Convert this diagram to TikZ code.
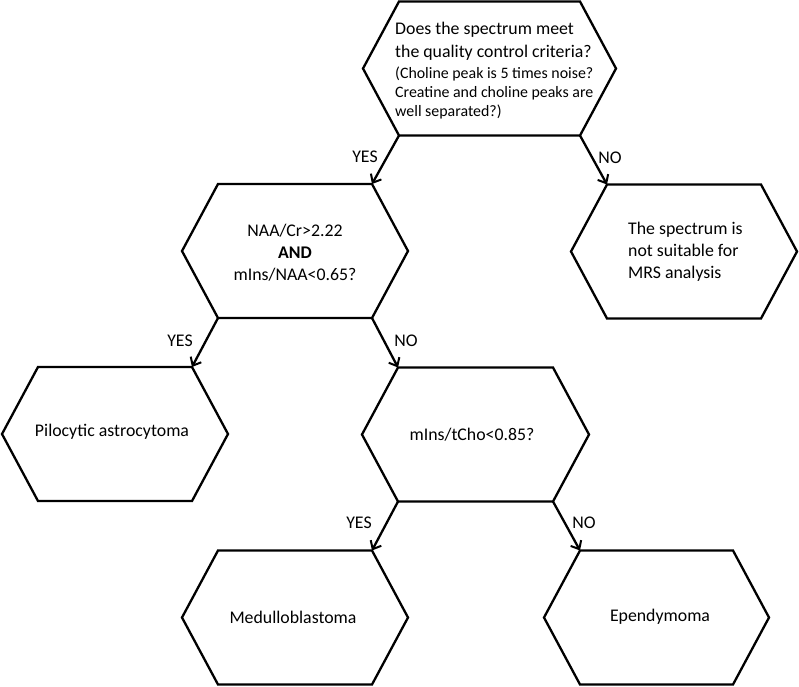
\documentclass[tikz,border=0pt]{standalone}
\usepackage{fontspec}
\setmainfont{Carlito}
\usetikzlibrary{arrows.meta}
\newcommand{\hexa}[4]{%
  \coordinate (#1-tl) at (#2-#4,#3-67);
  \coordinate (#1-tr) at (#2+#4,#3-67);
  \coordinate (#1-r)  at (#2+#4+36,#3);
  \coordinate (#1-br) at (#2+#4,#3+67);
  \coordinate (#1-bl) at (#2-#4,#3+67);
  \coordinate (#1-l)  at (#2-#4-36,#3);
  \draw[hexline] (#1-tl) -- (#1-tr) -- (#1-r) -- (#1-br) -- (#1-bl) -- (#1-l) -- cycle;}
\begin{document}
\begin{tikzpicture}[x=1pt,y=-1pt,
  hexline/.style={line width=2.3pt, line join=miter, black},
  arr/.style={line width=2.3pt, -{Straight Barb[length=7pt,width=12pt,line width=2pt]}},
  txt/.style={inner sep=0pt, font=\fontsize{17.8}{22}\selectfont},
  lab/.style={inner sep=0pt, font=\fontsize{17.8}{22}\selectfont}]
\useasboundingbox (0,0) rectangle (799,686);
\fill[white] (0,0) rectangle (799,686);
% hexagons: name, cx, cy, half width of top edge
\hexa{h1}{489.5}{68.5}{90.5}
\hexa{h2}{295}{251}{77}
\hexa{h3}{684}{251.5}{77}
\hexa{h4}{115}{434}{77}
\hexa{h5}{475.5}{434.5}{77.5}
\hexa{h6}{295}{617.5}{77}
\hexa{h7}{656.5}{617.5}{76.5}
% texts
\node[txt, align=left, anchor=west] (t1) at (395,70.5)
  {Does the spectrum meet\\[1pt]
   the quality control criteria?\\[-1pt]
   {\fontsize{15.9}{19}\selectfont (Choline peak is 5 times noise?}\\[-3pt]
   {\fontsize{15.9}{19}\selectfont Creatine and choline peaks are}\\[-3pt]
   {\fontsize{15.9}{19}\selectfont well separated?)}};
\node[txt, align=center] (t2) at (295,253)
  {NAA/Cr>2.22\\ \textbf{AND}\\ mIns/NAA<0.65?};
\node[txt, align=left, anchor=west] (t3) at (628,252)
  {The spectrum is\\ not suitable for\\ MRS analysis};
\node[txt] (t4) at (112,432) {Pilocytic astrocytoma};
\node[txt] (t5) at (472,435) {mIns/tCho<0.85?};
\node[txt] (t6) at (293,617) {Medulloblastoma};
\node[txt] (t7) at (660,617) {Ependymoma};
% connectors
\draw[arr] (h1-bl) -- (h2-tr);
\draw[arr] (h1-br) -- (h3-tl);
\draw[arr] (h2-bl) -- (h4-tr);
\draw[arr] (h2-br) -- (h5-tl);
\draw[arr] (h5-bl) -- (h6-tr);
\draw[arr] (h5-br) -- (h7-tl);
% connector labels
\node[lab] (y1) at (365,157) {YES};
\node[lab] (n1) at (610,158) {NO};
\node[lab] (y2) at (180,341) {YES};
\node[lab] (n2) at (406,341) {NO};
\node[lab] (y3) at (359,523) {YES};
\node[lab] (n3) at (584,523) {NO};
\end{tikzpicture}
\end{document}
